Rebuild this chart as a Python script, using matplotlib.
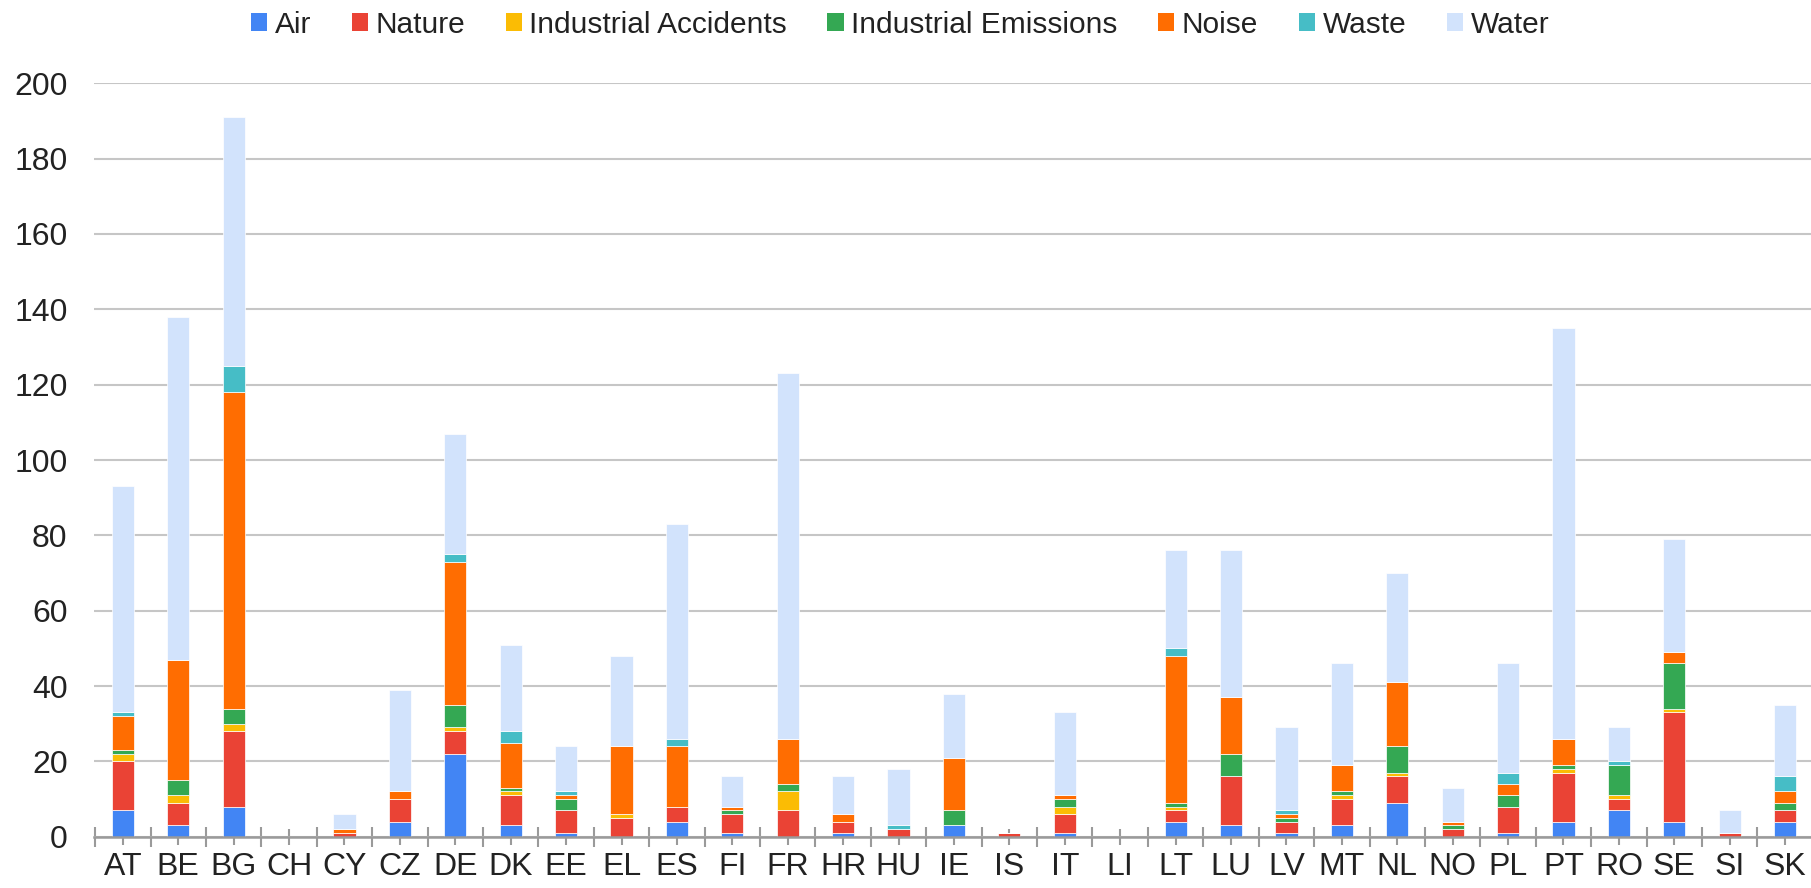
import matplotlib
matplotlib.use('Agg')
import matplotlib.pyplot as plt
from matplotlib.patches import Patch
import numpy as np

countries = ['AT', 'BE', 'BG', 'CH', 'CY', 'CZ', 'DE', 'DK', 'EE', 'EL', 'ES', 'FI', 'FR', 'HR', 'HU', 'IE',
             'IS', 'IT', 'LI', 'LT', 'LU', 'LV', 'MT', 'NL', 'NO', 'PL', 'PT', 'RO', 'SE', 'SI', 'SK']

air = [7, 3, 8, 0, 0, 4, 22, 3, 1, 0, 4, 1, 0, 1, 0, 3, 0, 1, 0, 4, 3, 1, 3, 9, 0, 1, 4, 7, 4, 0, 4]
nature = [13, 6, 20, 0, 1, 6, 6, 8, 6, 5, 4, 5, 7, 3, 2, 0, 1, 5, 0, 3, 13, 3, 7, 7, 2, 7, 13, 3, 29, 1, 3]
ind_accidents = [2, 2, 2, 0, 0, 0, 1, 1, 0, 1, 0, 0, 5, 0, 0, 0, 0, 2, 0, 1, 0, 0, 1, 1, 0, 0, 1, 1, 1, 0, 0]
ind_emissions = [1, 4, 4, 0, 0, 0, 6, 1, 3, 0, 0, 1, 2, 0, 0, 4, 0, 2, 0, 1, 6, 1, 1, 7, 1, 3, 1, 8, 12, 0, 2]
noise = [9, 32, 84, 0, 1, 2, 38, 12, 1, 18, 16, 1, 12, 2, 0, 14, 0, 1, 0, 39, 15, 1, 7, 17, 1, 3, 7, 0, 3, 0, 3]
waste = [1, 0, 7, 0, 0, 0, 2, 3, 1, 0, 2, 0, 0, 0, 1, 0, 0, 0, 0, 2, 0, 1, 0, 0, 0, 3, 0, 1, 0, 0, 4]
water = [60, 91, 66, 0, 4, 27, 32, 23, 12, 24, 57, 8, 97, 10, 15, 17, 0, 22, 0, 26, 39, 22, 27, 29, 9, 29, 109, 9, 30, 6, 19]

series = [('Air', air, '#4285F4'), ('Nature', nature, '#EA4335'),
          ('Industrial Accidents', ind_accidents, '#FBBC04'),
          ('Industrial Emissions', ind_emissions, '#34A853'),
          ('Noise', noise, '#FF6D01'), ('Waste', waste, '#46BDC6'),
          ('Water', water, '#D2E3FC')]

plt.rcParams['font.family'] = ['Liberation Sans', 'DejaVu Sans']

fig = plt.figure(figsize=(18.11, 8.88), dpi=100)
ax = fig.add_axes([94 / 1811, 51.3 / 888, 1 - 94 / 1811 + 0.001, (836.7 - 83.3) / 888])

x = np.arange(len(countries))
bottom = np.zeros(len(countries))
handles = []
for name, vals, color in series:
    v = np.array(vals, dtype=float)
    ax.bar(x, v, 0.4, bottom=bottom, color=color, edgecolor='white', linewidth=0.5, zorder=3)
    bottom += v
    handles.append(Patch(facecolor=color, edgecolor='none', label=name))

ax.set_xlim(-0.52, len(countries) - 0.5)
ax.set_ylim(0, 200)
ax.set_yticks(range(0, 201, 20))
ax.yaxis.grid(True, color='#c6c6c6', linewidth=1.5, zorder=0)
ax.set_axisbelow(True)
for s in ['top', 'right', 'left']:
    ax.spines[s].set_visible(False)
ax.spines['bottom'].set_color('#9a9a9a')
ax.spines['bottom'].set_linewidth(1.8)
ax.spines['bottom'].set_zorder(4)

ax.set_xticks(x)
ax.set_xticklabels(countries)
ax.set_xticks(np.arange(len(countries) + 1) - 0.5, minor=True)
ax.tick_params(axis='x', which='major', direction='inout', length=12, width=1.5, color='#9a9a9a',
               labelsize=23, labelcolor='#222222', pad=5)
ax.tick_params(axis='x', which='minor', direction='inout', length=14, width=1.5, color='#9a9a9a')
ax.tick_params(axis='y', length=0, labelsize=23, labelcolor='#222222', pad=19)

fig.legend(handles=handles, loc='upper center', bbox_to_anchor=(0.497, 1.018), ncol=7, frameon=False,
           fontsize=21.5, handlelength=0.55, handleheight=0.55, handletextpad=0.25, columnspacing=1.35,
           labelcolor='#222222')

fig.savefig('out.png', dpi=100)
